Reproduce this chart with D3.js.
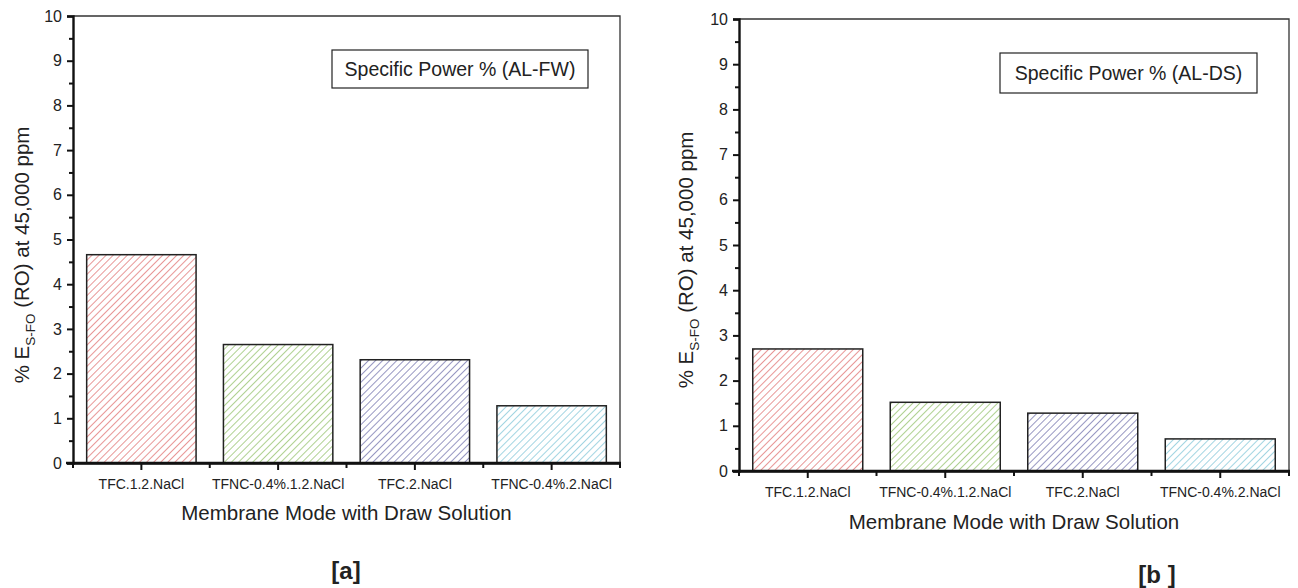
<!DOCTYPE html>
<html>
<head>
<meta charset="utf-8">
<script src="https://cdn.jsdelivr.net/npm/d3@7"></script>
<style>
  body { margin: 0; background: #fff; }
  svg text { font-family: "Liberation Sans", Arial, sans-serif; fill: #222; }
</style>
</head>
<body>
<svg width="1298" height="588"></svg>
<script>
// data
const categories = ["TFC.1.2.NaCl", "TFNC-0.4%.1.2.NaCl", "TFC.2.NaCl", "TFNC-0.4%.2.NaCl"];
const valuesFW = [4.66, 2.65, 2.31, 1.28];
const valuesDS = [2.70, 1.52, 1.28, 0.71];
const yTicks = [0, 1, 2, 3, 4, 5, 6, 7, 8, 9, 10];
const hatchColors = ["#de6a6a", "#8cbd62", "#6a6aa8", "#7cc4d6"];

const svg = d3.select("svg");

// hatch patterns, one per category
const defs = svg.append("defs");
hatchColors.forEach(function(c, i) {
  const p = defs.append("pattern")
    .attr("id", "hatch" + i)
    .attr("patternUnits", "userSpaceOnUse")
    .attr("width", 5)
    .attr("height", 5)
    .attr("patternTransform", "rotate(45)");
  p.append("rect").attr("width", 5).attr("height", 5).attr("fill", "#fff");
  p.append("line")
    .attr("x1", 0).attr("y1", 0).attr("x2", 0).attr("y2", 5)
    .attr("stroke", c)
    .attr("stroke-width", 1.4);
});

function drawPanel(opt) {
  const g = svg.append("g");
  const x = d3.scaleBand()
    .domain(categories)
    .range([opt.left, opt.right])
    .paddingInner(0.2)
    .paddingOuter(0.1);
  const y = d3.scaleLinear()
    .domain([0, 10])
    .range([opt.bottom, opt.top]);

  // frame top / right
  g.append("path")
    .attr("d", "M" + opt.left + "," + opt.top + "H" + opt.right + "V" + opt.bottom)
    .attr("fill", "none")
    .attr("stroke", "#333")
    .attr("stroke-width", 1.3);

  // bars
  g.selectAll("rect.bar")
    .data(opt.values)
    .enter().append("rect")
    .attr("class", "bar")
    .attr("x", (d, i) => x(categories[i]))
    .attr("width", x.bandwidth())
    .attr("y", d => y(d))
    .attr("height", d => y(0) - y(d))
    .attr("fill", (d, i) => "url(#hatch" + i + ")")
    .attr("stroke", "#222")
    .attr("stroke-width", 1.5);

  // y axis with minor ticks
  const yAxis = g.append("g")
    .attr("transform", "translate(" + opt.left + ",0)")
    .call(d3.axisLeft(y).tickValues(yTicks).tickSize(6).tickPadding(5).tickFormat(d3.format("d")));
  yAxis.selectAll("text").style("font-size", "16px");
  g.append("g")
    .attr("transform", "translate(" + opt.left + ",0)")
    .call(d3.axisLeft(y).tickValues(d3.range(0.5, 10, 1)).tickSize(4).tickFormat(""))
    .select(".domain").remove();

  // x axis: major ticks at centres, minor at band edges
  const xAxis = g.append("g")
    .attr("transform", "translate(0," + opt.bottom + ")")
    .call(d3.axisBottom(x).tickSize(7).tickPadding(9).tickSizeOuter(0));
  xAxis.selectAll("text").style("font-size", "14px");
  const edges = [opt.left].concat(categories.slice(1).map(c => x(c) - x.step() * 0.1), [opt.right]);
  g.append("g").selectAll("line")
    .data(edges)
    .enter().append("line")
    .attr("x1", d => d).attr("x2", d => d)
    .attr("y1", opt.bottom).attr("y2", opt.bottom + 5)
    .attr("stroke", "#111").attr("stroke-width", 2);
  g.append("line")
    .attr("x1", opt.left - 7).attr("x2", opt.right + 1)
    .attr("y1", opt.bottom).attr("y2", opt.bottom)
    .attr("stroke", "#111").attr("stroke-width", 2.4);
  g.selectAll(".domain").attr("stroke-width", 2.4).attr("stroke", "#111");
  g.selectAll(".tick line").attr("stroke-width", 2).attr("stroke", "#111");

  // legend box
  g.append("rect")
    .attr("x", opt.box[0]).attr("y", opt.box[1])
    .attr("width", opt.box[2]).attr("height", opt.box[3])
    .attr("fill", "#fff").attr("stroke", "#222").attr("stroke-width", 1.2);
  g.append("text")
    .attr("x", opt.box[0] + opt.box[2] / 2)
    .attr("y", opt.box[1] + opt.box[3] / 2 + 7)
    .attr("text-anchor", "middle")
    .style("font-size", "19.5px")
    .text(opt.legend);

  // y title
  const yt = g.append("text")
    .attr("transform", "translate(" + opt.yTitle[0] + "," + opt.yTitle[1] + ") rotate(-90)")
    .attr("text-anchor", "middle")
    .style("font-size", "20.5px");
  yt.append("tspan").text("% E");
  yt.append("tspan").attr("dy", 6).style("font-size", "13.5px").text("S-FO");
  yt.append("tspan").attr("dy", -6).text(" (RO) at 45,000 ppm");

  // x title
  g.append("text")
    .attr("x", (opt.left + opt.right) / 2)
    .attr("y", opt.xTitleY)
    .attr("text-anchor", "middle")
    .style("font-size", "20.5px")
    .text("Membrane Mode with Draw Solution");

  // panel tag
  g.append("text")
    .attr("x", opt.tag[0]).attr("y", opt.tag[1])
    .attr("text-anchor", "middle")
    .style("font-size", "24px")
    .style("font-weight", "bold")
    .text(opt.tagText);
}

drawPanel({
  left: 73, right: 620, top: 16, bottom: 463,
  values: valuesFW,
  box: [332, 50, 256, 38],
  legend: "Specific Power % (AL-FW)",
  yTitle: [29, 255],
  xTitleY: 520,
  tag: [346, 579],
  tagText: "[a]"
});

drawPanel({
  left: 739, right: 1289, top: 19, bottom: 471,
  values: valuesDS,
  box: [1000, 53, 257, 40],
  legend: "Specific Power % (AL-DS)",
  yTitle: [693, 260],
  xTitleY: 529,
  tag: [1157, 583],
  tagText: "[b ]"
});
</script>
</body>
</html>
